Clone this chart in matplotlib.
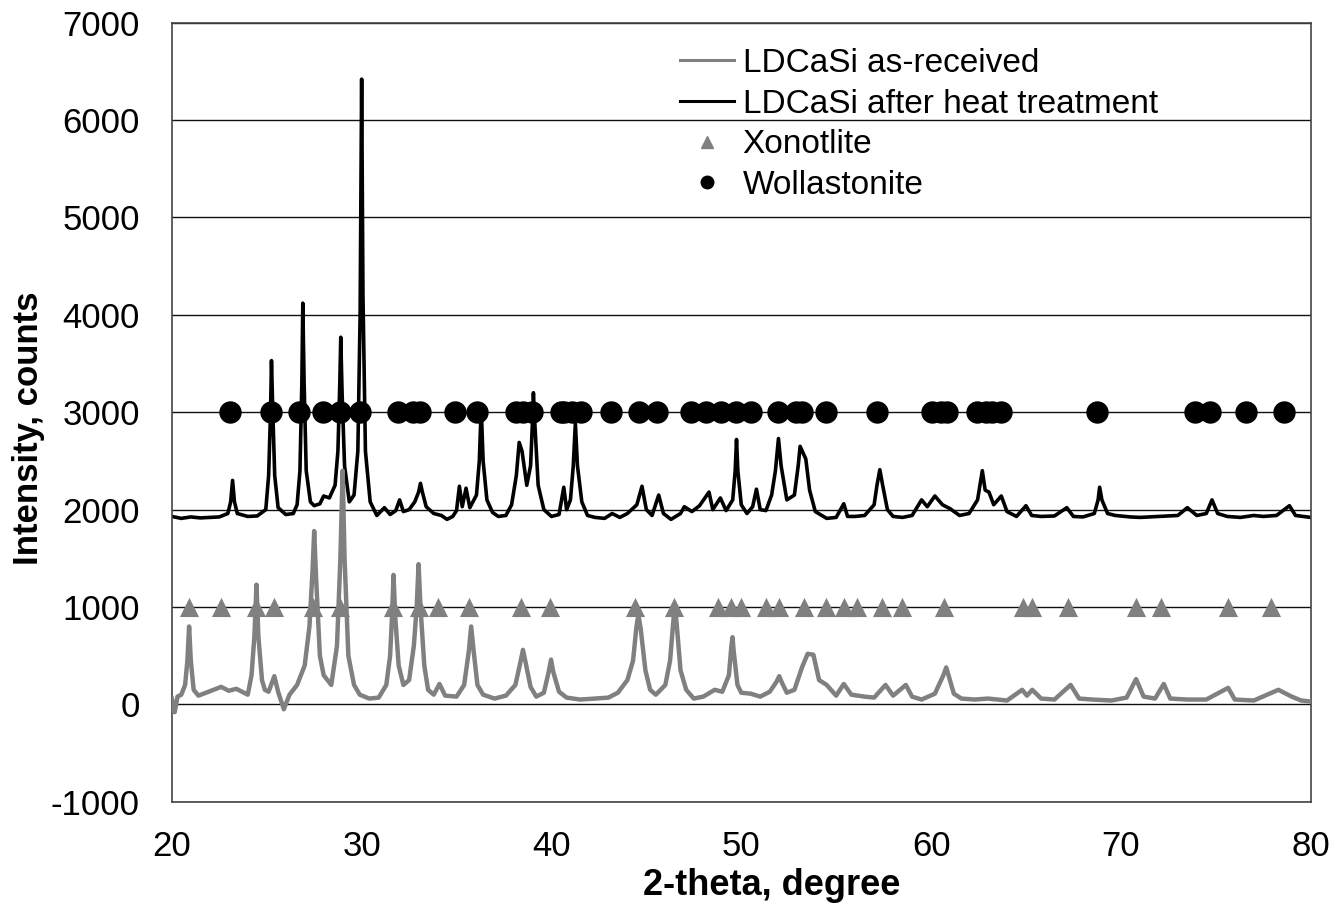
import matplotlib.pyplot as plt
from matplotlib.lines import Line2D
import numpy as np

plt.rcParams['font.family'] = ['Liberation Sans', 'DejaVu Sans']
plt.rcParams['axes.unicode_minus'] = False

# LDCaSi as-received (grey trace)
raw_x = [20.0, 20.15, 20.3, 20.5, 20.7, 20.82, 20.91, 21.0, 21.15, 21.4, 21.8, 22.2, 22.6, 23.0,
         23.4, 23.8, 24.0, 24.2, 24.35, 24.46, 24.56, 24.75, 24.9, 25.1, 25.4, 25.6, 25.9, 26.2,
         26.6, 27.0, 27.25, 27.42, 27.5, 27.6, 27.8, 28.0, 28.4, 28.7, 28.88, 29.0, 29.1, 29.3,
         29.6, 29.9, 30.4, 30.9, 31.3, 31.5, 31.6, 31.68, 31.77, 31.95, 32.2, 32.5, 32.75, 32.9,
         33.0, 33.1, 33.3, 33.5, 33.8, 34.1, 34.4, 35.0, 35.4, 35.65, 35.77, 35.9, 36.1, 36.4,
         37.0, 37.6, 38.1, 38.35, 38.5, 38.65, 38.9, 39.2, 39.6, 39.85, 39.98, 40.1, 40.4, 40.8,
         41.5, 42.3, 43.0, 43.5, 44.0, 44.3, 44.48, 44.58, 44.7, 44.95, 45.2, 45.5, 46.0, 46.25,
         46.42, 46.5, 46.6, 46.8, 47.1, 47.5, 48.0, 48.6, 49.0, 49.35, 49.48, 49.54, 49.6, 49.8,
         50.0, 50.5, 51.0, 51.5, 51.85, 52.0, 52.15, 52.4, 52.8, 53.2, 53.5, 53.8, 54.1, 54.5,
         55.0, 55.4, 55.8, 56.5, 57.0, 57.6, 58.0, 58.67, 59.0, 59.5, 60.2, 60.65, 60.8, 60.95,
         61.2, 61.6, 62.3, 63.0, 64.0, 64.8, 65.05, 65.33, 65.8, 66.5, 67.35, 67.8, 68.5, 69.5,
         70.3, 70.8, 71.2, 71.8, 72.26, 72.6, 73.5, 74.5, 75.65, 76.0, 77.0, 78.3, 79.0, 79.5,
         80.0]
raw_y = [60, -80, 80, 100, 200, 450, 800, 450, 150, 90, 120, 150, 180, 140,
         160, 120, 100, 300, 700, 1230, 700, 250, 150, 130, 290, 130, -50, 100,
         200, 400, 800, 1400, 1780, 1300, 500, 300, 200, 600, 1500, 2400, 1500, 500,
         200, 100, 60, 70, 200, 500, 900, 1330, 900, 400, 200, 250, 600, 1000,
         1440, 1000, 400, 150, 100, 210, 90, 80, 200, 550, 800, 550, 200, 100,
         60, 90, 200, 420, 560, 420, 180, 80, 120, 330, 460, 330, 130, 70,
         50, 60, 70, 120, 250, 450, 800, 920, 780, 350, 150, 100, 200, 450,
         850, 1010, 820, 350, 150, 60, 80, 150, 130, 300, 600, 690, 550, 200,
         120, 110, 80, 130, 230, 290, 220, 120, 150, 380, 520, 510, 250, 200,
         90, 210, 100, 80, 70, 200, 90, 200, 80, 50, 110, 300, 380, 280,
         110, 60, 50, 60, 40, 150, 90, 150, 60, 50, 200, 60, 50, 40,
         70, 260, 80, 60, 210, 60, 50, 50, 170, 50, 40, 150, 80, 40,
         30]

# LDCaSi after heat treatment (black trace)
ht_x = [20.0, 20.5, 21.0, 21.5, 22.0, 22.5, 22.95, 23.1, 23.2, 23.3, 23.45, 24.0, 24.5, 24.95,
        25.1, 25.2, 25.25, 25.32, 25.42, 25.6, 26.0, 26.4, 26.6, 26.75, 26.85, 26.9, 26.97, 27.08,
        27.3, 27.5, 27.8, 28.0, 28.3, 28.6, 28.75, 28.85, 28.9, 28.97, 29.1, 29.35, 29.6, 29.8,
        29.92, 30.0, 30.07, 30.2, 30.45, 30.8, 31.2, 31.5, 31.8, 32.0, 32.2, 32.5, 32.8, 33.0,
        33.1, 33.2, 33.4, 33.8, 34.2, 34.5, 34.8, 35.0, 35.15, 35.3, 35.5, 35.7, 36.05, 36.2,
        36.3, 36.4, 36.6, 36.9, 37.2, 37.6, 37.9, 38.15, 38.3, 38.45, 38.7, 38.9, 39.0, 39.05,
        39.12, 39.3, 39.6, 40.0, 40.4, 40.65, 40.8, 41.0, 41.15, 41.26, 41.37, 41.6, 41.9, 42.3,
        42.8, 43.2, 43.6, 44.0, 44.5, 44.77, 45.0, 45.3, 45.65, 45.9, 46.3, 46.8, 47.0, 47.4,
        47.8, 48.3, 48.5, 48.9, 49.2, 49.55, 49.68, 49.75, 49.82, 50.0, 50.3, 50.6, 50.8, 51.0,
        51.3, 51.6, 51.8, 51.96, 52.1, 52.4, 52.8, 53.0, 53.1, 53.4, 53.6, 53.9, 54.5, 55.0,
        55.4, 55.6, 56.0, 56.5, 57.0, 57.15, 57.3, 57.45, 57.7, 58.0, 58.5, 59.0, 59.5, 59.8,
        60.2, 60.6, 61.0, 61.5, 62.0, 62.45, 62.6, 62.7, 62.85, 63.05, 63.3, 63.7, 64.0, 64.5,
        65.0, 65.3, 65.8, 66.5, 67.15, 67.5, 68.0, 68.6, 68.8, 68.88, 69.0, 69.3, 69.7, 70.5,
        71.0, 72.0, 73.0, 73.5, 74.0, 74.5, 74.8, 75.1, 75.6, 76.3, 77.0, 77.5, 78.2, 78.88,
        79.2, 80.0]
ht_y = [1930, 1910, 1925, 1915, 1920, 1925, 1960, 2080, 2300, 2080, 1960, 1930, 1935, 2000,
        2350, 3000, 3530, 3000, 2350, 2020, 1950, 1960, 2050, 2400, 3300, 4120, 3300, 2400,
        2080, 2040, 2060, 2140, 2120, 2250, 2600, 3300, 3770, 3200, 2450, 2080, 2150, 2600,
        4000, 6420, 4200, 2600, 2080, 1940, 2020, 1950, 1990, 2100, 1980, 2000, 2080, 2180,
        2270, 2180, 2030, 1960, 1940, 1900, 1930, 1990, 2240, 2030, 2220, 2020, 2150, 2500,
        3050, 2500, 2100, 1970, 1930, 1940, 2050, 2350, 2690, 2600, 2250, 2450, 2900, 3200,
        2900, 2250, 2000, 1930, 1950, 2230, 2000, 2100, 2450, 2890, 2450, 2080, 1940, 1920,
        1910, 1960, 1920, 1960, 2050, 2240, 2000, 1940, 2150, 1960, 1900, 1960, 2030, 1980,
        2040, 2180, 2000, 2120, 1990, 2100, 2400, 2720, 2400, 2050, 1960, 2030, 2210, 2000,
        1990, 2150, 2400, 2730, 2450, 2100, 2150, 2450, 2650, 2520, 2200, 1980, 1910, 1920,
        2060, 1930, 1930, 1940, 2050, 2250, 2410, 2250, 2000, 1930, 1920, 1940, 2100, 2030,
        2140, 2050, 2010, 1940, 1960, 2100, 2280, 2400, 2200, 2180, 2050, 2140, 1980, 1930,
        2040, 1940, 1930, 1935, 2020, 1930, 1925, 1960, 2100, 2230, 2100, 1960, 1940, 1925,
        1920, 1930, 1940, 2020, 1940, 1960, 2100, 1960, 1930, 1920, 1940, 1930, 1940, 2040,
        1940, 1920]

# reference peak positions (2-theta)
xonotlite = [20.91, 22.61, 24.46, 25.37, 27.44, 28.84, 31.65, 33.0, 34.0, 35.68, 38.4, 39.95,
             44.42, 46.47, 48.75, 49.45, 49.98, 51.3, 52.0, 53.32, 54.46, 55.42, 56.12, 57.44,
             58.49, 60.68, 64.84, 65.33, 67.21, 70.8, 72.14, 75.65, 77.91]
wollastonite = [23.05, 25.2, 26.7, 27.95, 28.84, 29.93, 31.9, 32.7, 33.05, 34.93, 36.06,
                38.14, 38.5, 39.0, 40.5, 40.68, 41.1, 41.56, 43.14, 44.63, 45.56, 47.35, 48.14,
                48.93, 49.72, 50.51, 51.91, 52.88, 53.2, 54.46, 57.17, 60.07, 60.51, 60.86,
                62.44, 62.87, 63.23, 63.66, 68.75, 73.9, 74.72, 76.6, 78.6]
xonotlite_level = 1000
wollastonite_level = 3000

GREY = '#808080'

fig, ax = plt.subplots(figsize=(13.32, 9.06), dpi=100)
fig.subplots_adjust(left=0.129, right=0.984, top=0.975, bottom=0.115)

for lvl in range(-1000, 7001, 1000):
    ax.axhline(lvl, color='#111111', lw=1.0, zorder=1)

ax.plot(ht_x, ht_y, color='black', lw=2.6, zorder=2)
ax.plot(raw_x, raw_y, color=GREY, lw=3.2, zorder=3)
ax.scatter(xonotlite, [xonotlite_level] * len(xonotlite), marker='^', s=190,
           color=GREY, zorder=4, linewidths=0)
ax.scatter(wollastonite, [wollastonite_level] * len(wollastonite), marker='o', s=260,
           color='black', zorder=4, linewidths=0)

ax.set_xlim(20, 80)
ax.set_ylim(-1000, 7000)
ax.set_xticks(np.arange(20, 81, 10))
ax.set_yticks(np.arange(-1000, 7001, 1000))
ax.tick_params(length=0, labelsize=25, colors='black')
ax.tick_params(axis='x', pad=20)
ax.tick_params(axis='y', pad=23)
for s in ax.spines.values():
    s.set_color('#444444')
    s.set_linewidth(1.2)

ax.set_xlabel('2-theta, degree', fontsize=26, fontweight='bold', labelpad=4, x=0.527)
ax.set_ylabel('Intensity, counts', fontsize=25, fontweight='bold', labelpad=4, y=0.48)

handles = [Line2D([], [], color=GREY, lw=2.2),
           Line2D([], [], color='black', lw=2.2),
           Line2D([], [], color=GREY, lw=0, marker='^', markersize=9),
           Line2D([], [], color='black', lw=0, marker='o', markersize=9)]
labels = ['LDCaSi as-received', 'LDCaSi after heat treatment', 'Xonotlite', 'Wollastonite']
ax.legend(handles, labels, loc='upper left', bbox_to_anchor=(0.5105, 0.947),
          bbox_transform=fig.transFigure, frameon=False, fontsize=24,
          handlelength=1.63, handletextpad=0.25, labelspacing=0.29,
          borderpad=0, borderaxespad=0)

fig.savefig('out.png', dpi=100)
